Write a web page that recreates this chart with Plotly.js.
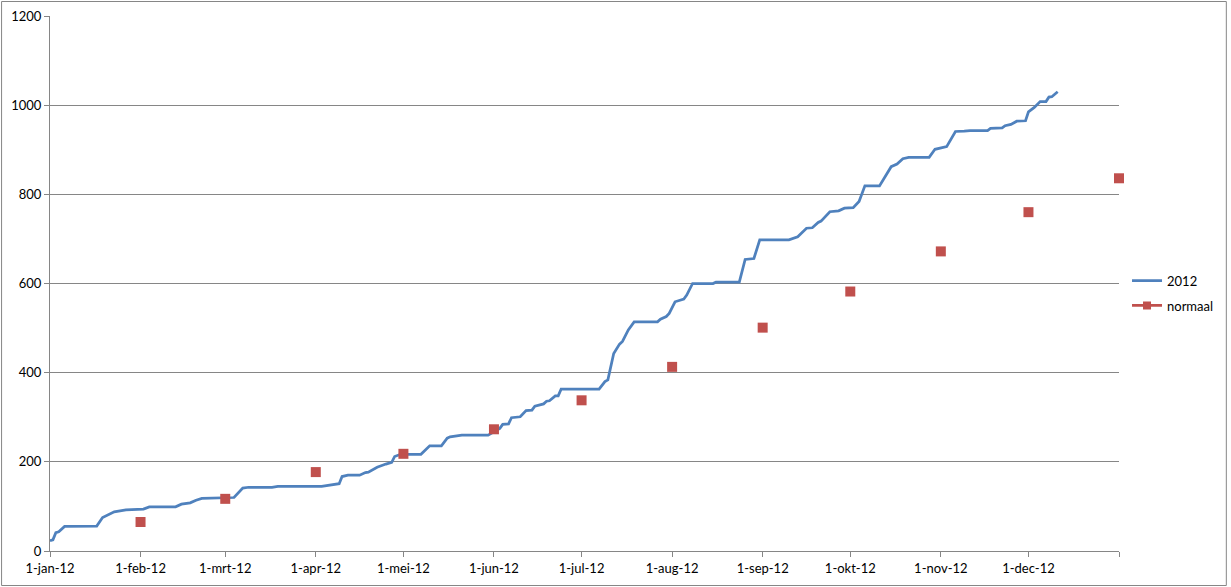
<!DOCTYPE html>
<html>
<head>
<meta charset="utf-8">
<script src="https://cdn.plot.ly/plotly-3.0.1.min.js"></script>
<style>
  html, body { margin: 0; padding: 0; background: #fff; }
  #plot { width: 1231px; height: 587px; }
</style>
</head>
<body>
<div id="plot"></div>
<script>
// cumulative rain 2012 (mm) at the step corners
var dates2012 = [
  '2012-01-01','2012-01-02','2012-01-03','2012-01-04','2012-01-06','2012-01-17','2012-01-19','2012-01-21',
  '2012-01-23','2012-01-25','2012-01-27','2012-02-02','2012-02-04','2012-02-13','2012-02-15','2012-02-18',
  '2012-02-20','2012-02-22','2012-03-04','2012-03-07','2012-03-09','2012-03-17','2012-03-19','2012-04-03',
  '2012-04-07','2012-04-09','2012-04-10','2012-04-12','2012-04-16','2012-04-18','2012-04-19','2012-04-22',
  '2012-04-25','2012-04-27','2012-04-28','2012-04-30','2012-05-07','2012-05-10','2012-05-14','2012-05-16',
  '2012-05-17','2012-05-21','2012-05-30','2012-06-01','2012-06-03','2012-06-04','2012-06-06','2012-06-07',
  '2012-06-10','2012-06-12','2012-06-14','2012-06-15','2012-06-18','2012-06-19','2012-06-20','2012-06-22',
  '2012-06-23','2012-06-24','2012-07-07','2012-07-09','2012-07-10','2012-07-12','2012-07-14','2012-07-15',
  '2012-07-17','2012-07-19','2012-07-27','2012-07-28','2012-07-30','2012-07-31','2012-08-02','2012-08-05',
  '2012-08-06','2012-08-08','2012-08-15','2012-08-16','2012-08-24','2012-08-26','2012-08-29','2012-08-31',
  '2012-09-10','2012-09-13','2012-09-16','2012-09-18','2012-09-20','2012-09-21','2012-09-24','2012-09-27',
  '2012-09-29','2012-10-02','2012-10-04','2012-10-06','2012-10-11','2012-10-15','2012-10-17','2012-10-19',
  '2012-10-21','2012-10-28','2012-10-30','2012-11-03','2012-11-06','2012-11-09','2012-11-11','2012-11-17',
  '2012-11-18','2012-11-22','2012-11-23','2012-11-25','2012-11-27','2012-11-30','2012-12-01','2012-12-03',
  '2012-12-05','2012-12-07','2012-12-08','2012-12-09','2012-12-11'
];
var rain2012 = [
  23, 25, 41, 43, 55, 56, 75, 81,
  88, 90, 92, 94, 99, 99, 105, 108,
  114, 118, 120, 141, 143, 143, 145, 145,
  150, 151, 167, 170, 170, 176, 177, 188,
  195, 199, 212, 217, 217, 236, 236, 253,
  256, 260, 260, 268, 275, 284, 285, 299,
  301, 315, 316, 325, 330, 336, 337, 348,
  348, 363, 363, 380, 384, 443, 464, 470,
  496, 514, 514, 520, 526, 533, 559, 565,
  574, 600, 600, 603, 603, 654, 656, 698,
  698, 705, 724, 725, 737, 740, 761, 763,
  769, 770, 784, 819, 819, 862, 868, 880,
  883, 883, 901, 907, 941, 942, 943, 943,
  948, 949, 954, 957, 964, 965, 985, 995,
  1008, 1008, 1018, 1019, 1030
];

// long-term normal, cumulative at month start
var normaalDates = ['2012-02-01','2012-03-01','2012-04-01','2012-05-01','2012-06-01','2012-07-01',
                    '2012-08-01','2012-09-01','2012-10-01','2012-11-01','2012-12-01','2013-01-01'];
var normaalValues = [65, 117, 177, 218, 273, 338, 413, 501, 582, 672, 760, 836];

// axis ticks
var tickDates = ['2012-01-01','2012-02-01','2012-03-01','2012-04-01','2012-05-01','2012-06-01','2012-07-01',
                 '2012-08-01','2012-09-01','2012-10-01','2012-11-01','2012-12-01','2013-01-01'];
var tickLabels = ['1-jan-12','1-feb-12','1-mrt-12','1-apr-12','1-mei-12','1-jun-12','1-jul-12',
                  '1-aug-12','1-sep-12','1-okt-12','1-nov-12','1-dec-12',''];

var grey = '#868686';
var red = '#C0504D';
var fontFam = 'Lato, "Open Sans", sans-serif';

var trace2012 = {
  x: dates2012,
  y: rain2012,
  name: '2012',
  type: 'scatter',
  mode: 'lines',
  line: { color: '#4F81BD', width: 2.75 },
  legendgroup: 'a'
};
var traceNormaal = {
  x: normaalDates,
  y: normaalValues,
  name: 'normaal',
  type: 'scatter',
  mode: 'markers',
  cliponaxis: false,
  marker: { symbol: 'square', size: 10, color: red },
  showlegend: false,
  legendgroup: 'b'
};
// legend entry only (Excel shows line + marker in the key)
var legendNormaal = {
  x: [null],
  y: [null],
  name: 'normaal',
  type: 'scatter',
  mode: 'lines+markers',
  line: { color: red, width: 2.75 },
  marker: { symbol: 'square', size: 8, color: red },
  legendgroup: 'b'
};

var layout = {
  width: 1231,
  height: 587,
  margin: { l: 50, r: 110, t: 16, b: 36 },
  paper_bgcolor: '#fff',
  plot_bgcolor: '#fff',
  font: { family: fontFam, size: 13, color: '#000' },
  showlegend: true,
  legend: {
    x: 1.0075, xanchor: 'left',
    y: 0.482, yanchor: 'middle',
    traceorder: 'grouped',
    tracegroupgap: 5,
    itemwidth: 30,
    font: { family: fontFam, size: 13, color: '#000' }
  },
  xaxis: {
    type: 'date',
    range: ['2012-01-01', '2013-01-01'],
    tickmode: 'array',
    tickvals: tickDates,
    ticktext: tickLabels,
    ticks: 'outside',
    ticklen: 5,
    tickcolor: grey,
    showline: true,
    linecolor: grey,
    linewidth: 1,
    showgrid: false,
    zeroline: false
  },
  yaxis: {
    range: [0, 1200],
    dtick: 200,
    tick0: 0,
    ticks: 'outside',
    ticklen: 5,
    tickcolor: grey,
    showline: true,
    linecolor: grey,
    linewidth: 1,
    showgrid: true,
    gridcolor: grey,
    gridwidth: 1,
    zeroline: false
  },
  shapes: [{
    type: 'rect',
    xref: 'paper', yref: 'paper',
    x0: -0.0453, x1: 1.1004,
    y0: -0.0645, y1: 1.0271,
    line: { color: grey, width: 1 },
    fillcolor: 'rgba(0,0,0,0)'
  }]
};

Plotly.newPlot('plot', [trace2012, traceNormaal, legendNormaal], layout, { displayModeBar: false, staticPlot: true });
</script>
</body>
</html>
